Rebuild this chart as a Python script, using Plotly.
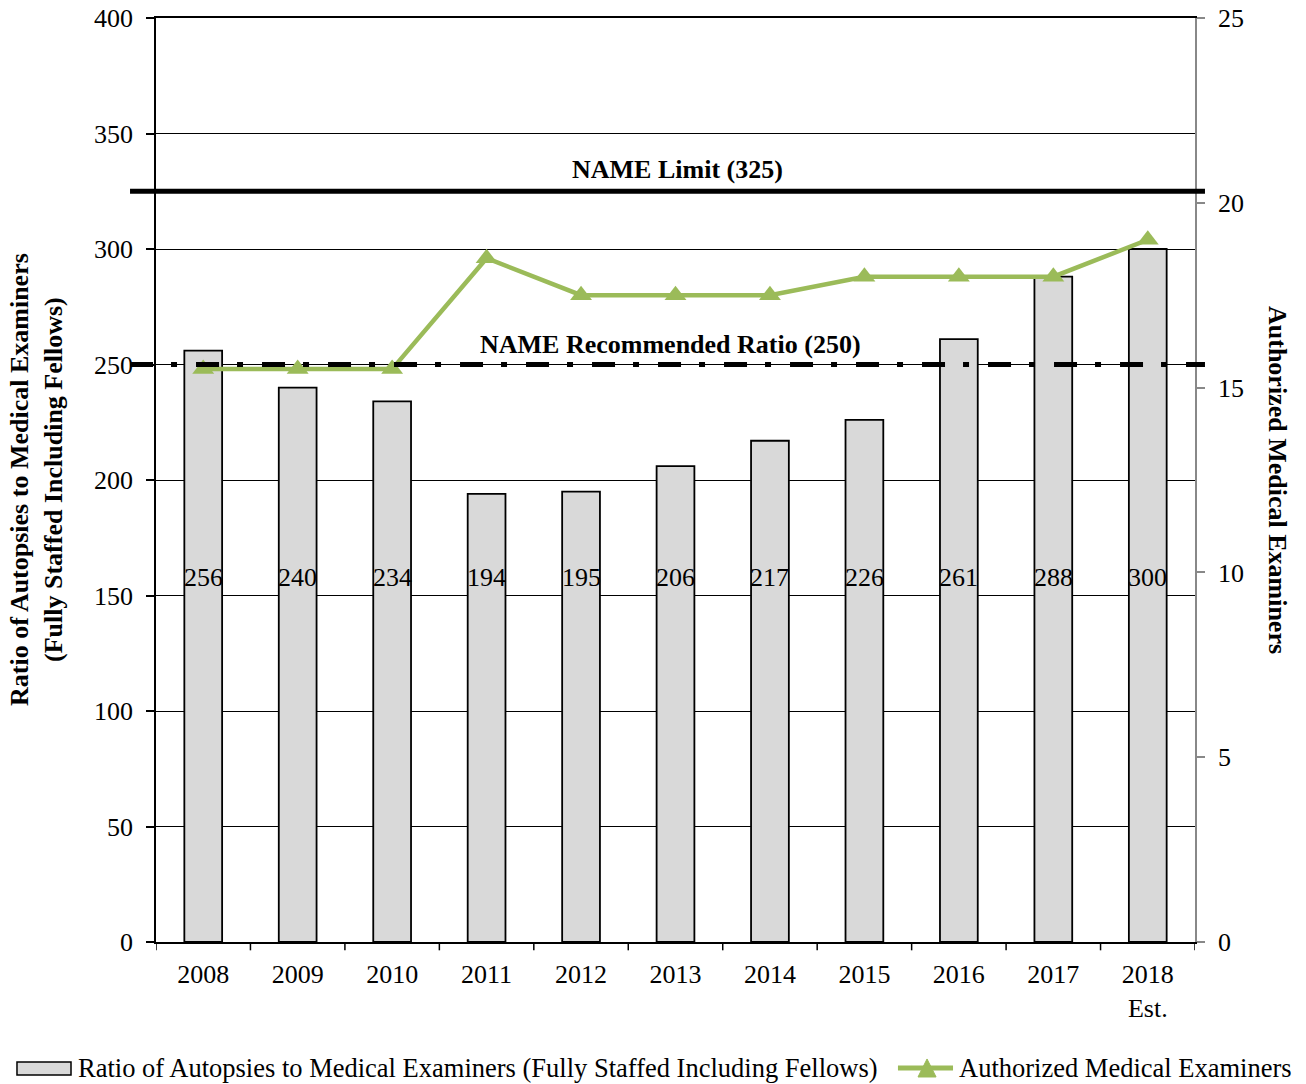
import plotly.graph_objects as go

# Data
years = ["2008", "2009", "2010", "2011", "2012", "2013", "2014", "2015", "2016", "2017", "2018<br>Est."]
autopsy_ratio = [256, 240, 234, 194, 195, 206, 217, 226, 261, 288, 300]
authorized_me = [15.5, 15.5, 15.5, 18.5, 17.5, 17.5, 17.5, 18, 18, 18, 19]
name_limit = 325
name_recommended = 250
bar_series_name = "Ratio of Autopsies to Medical Examiners (Fully Staffed Including Fellows)"
line_series_name = "Authorized Medical Examiners"

FONT = "Liberation Serif"
GREEN = "#9BBB59"
BAR_FILL = "#D9D9D9"
FS = 26
TXT = dict(family=FONT, size=FS, color="black")

xpos = list(range(len(years)))

fig = go.Figure()

fig.add_trace(go.Bar(
    x=xpos, y=autopsy_ratio, name=bar_series_name,
    marker=dict(color=BAR_FILL, line=dict(color="black", width=1.8)),
    width=0.4, yaxis="y",
))

fig.add_trace(go.Scatter(
    x=xpos, y=authorized_me, name=line_series_name,
    mode="lines+markers",
    line=dict(color=GREEN, width=4.5),
    marker=dict(symbol="triangle-up", size=19, color=GREEN),
    yaxis="y2",
))

# Bar value labels, all placed on one row
for xi, v in zip(xpos, autopsy_ratio):
    fig.add_annotation(x=xi, y=158, xref="x", yref="y", text=str(v),
                       showarrow=False, font=TXT)

# NAME reference lines
fig.add_shape(type="line", xref="paper", yref="y", x0=-0.025, x1=1.0096,
              y0=name_limit, y1=name_limit, line=dict(color="black", width=5))
fig.add_shape(type="line", xref="paper", yref="y", x0=-0.025, x1=1.0096,
              y0=name_recommended, y1=name_recommended,
              line=dict(color="black", width=5, dash="23px,18px,6px,19px"))
fig.add_annotation(x=0.502, xref="paper", y=name_limit, yref="y", yshift=22,
                   text=f"<b>NAME Limit ({name_limit})</b>", showarrow=False, font=TXT)
fig.add_annotation(x=0.495, xref="paper", y=name_recommended, yref="y", yshift=20,
                   text=f"<b>NAME Recommended Ratio ({name_recommended})</b>",
                   showarrow=False, font=TXT)

# Axis titles
fig.add_annotation(x=0.0, xref="paper", xshift=-120, xanchor="center",
                   y=0.5, yref="paper", yanchor="middle",
                   text="<b>Ratio of Autopsies to Medical Examiners<br>(Fully Staffed Including Fellows)</b>",
                   textangle=-90, showarrow=False, font=TXT)
fig.add_annotation(x=1.0, xref="paper", xshift=83, xanchor="center",
                   y=0.5, yref="paper", yanchor="middle",
                   text=f"<b>{line_series_name}</b>", textangle=90,
                   showarrow=False, font=TXT)

# Legend row along the bottom, laid out in one line
LEG_Y = -0.1364
LEG_FONT = dict(family=FONT, size=26.5, color="black")
fig.add_shape(type="rect", xref="paper", yref="paper",
              x0=-0.1338, x1=-0.0818, y0=-0.1439, y1=-0.1299,
              fillcolor=BAR_FILL, line=dict(color="black", width=1.5))
fig.add_annotation(x=-0.077, xref="paper", xanchor="left", y=LEG_Y, yref="paper",
                   yanchor="middle", text=bar_series_name, showarrow=False, font=LEG_FONT)
fig.add_shape(type="line", xref="paper", yref="paper",
              x0=0.7141, x1=0.7671, y0=LEG_Y, y1=LEG_Y,
              line=dict(color=GREEN, width=5))
fig.add_shape(type="path", xref="paper", yref="paper",
              path="M 0.7334,-0.1461 L 0.7508,-0.1461 L 0.7421,-0.1266 Z",
              fillcolor=GREEN, line=dict(color=GREEN, width=1))
fig.add_annotation(x=0.7709, xref="paper", xanchor="left", y=LEG_Y, yref="paper",
                   yanchor="middle", text=line_series_name, showarrow=False, font=LEG_FONT)

fig.update_layout(
    width=1306, height=1084,
    margin=dict(l=156, r=111, t=18, b=142, autoexpand=False),
    paper_bgcolor="white", plot_bgcolor="white",
    font=TXT,
    showlegend=False,
    xaxis=dict(
        range=[-0.5, len(years) - 0.5],
        tickvals=xpos, ticktext=years, tickangle=0, tickfont=TXT,
        ticklabelstandoff=8,
        showline=True, mirror=True, linecolor="black", linewidth=1.5,
        ticks="", showgrid=False, zeroline=False,
    ),
    yaxis=dict(
        range=[0, 400], dtick=50, tickfont=TXT, ticklabelstandoff=8,
        showline=True, linecolor="black", linewidth=1.5,
        ticks="outside", ticklen=8, tickcolor="black", tickwidth=1.5,
        showgrid=True, gridcolor="black", gridwidth=1, zeroline=False,
    ),
    yaxis2=dict(
        range=[0, 25], dtick=5, overlaying="y", side="right",
        tickfont=TXT, ticklabelstandoff=8,
        showline=True, linecolor="#888888", linewidth=1.5,
        ticks="outside", ticklen=8, tickcolor="#888888", tickwidth=1.5,
        showgrid=False, zeroline=False,
    ),
)

# Category boundary tick marks below the x axis
for b in range(len(years) + 1):
    fig.add_shape(type="line", xref="x", yref="paper", x0=b - 0.5, x1=b - 0.5,
                  y0=0, y1=-0.009, line=dict(color="black", width=1.5))

fig.write_html("out.html")
